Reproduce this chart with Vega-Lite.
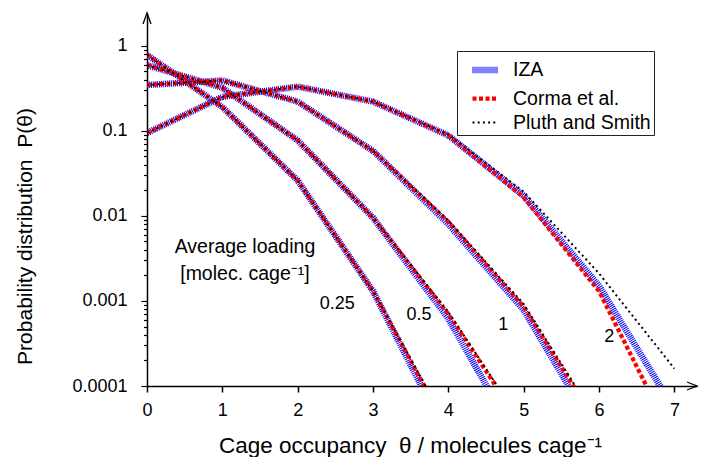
{
  "$schema": "https://vega.github.io/schema/vega-lite/v6.json",
  "width": 550,
  "height": 373,
  "autosize": {"type": "none"},
  "padding": {"left": 147, "top": 13, "right": 4, "bottom": 71},
  "background": "white",
  "config": {
    "view": {"stroke": null},
    "font": "Liberation Sans",
    "axis": {"labelFont": "Liberation Sans", "labelFontSize": 18, "titleFont": "Liberation Sans"}
  },
  "datasets": {
    "curves": [
      {"series": "IZA", "loading": "0.25", "theta": 0, "p": 0.78},
      {"series": "IZA", "loading": "0.25", "theta": 1, "p": 0.19},
      {"series": "IZA", "loading": "0.25", "theta": 2, "p": 0.026},
      {"series": "IZA", "loading": "0.25", "theta": 3, "p": 0.0013},
      {"series": "IZA", "loading": "0.25", "theta": 4, "p": 0.000024},
      {"series": "IZA", "loading": "0.5", "theta": 0, "p": 0.59},
      {"series": "IZA", "loading": "0.5", "theta": 1, "p": 0.32},
      {"series": "IZA", "loading": "0.5", "theta": 2, "p": 0.077},
      {"series": "IZA", "loading": "0.5", "theta": 3, "p": 0.0095},
      {"series": "IZA", "loading": "0.5", "theta": 4, "p": 0.00062},
      {"series": "IZA", "loading": "0.5", "theta": 5, "p": 0.000017},
      {"series": "IZA", "loading": "1", "theta": 0, "p": 0.345},
      {"series": "IZA", "loading": "1", "theta": 1, "p": 0.39},
      {"series": "IZA", "loading": "1", "theta": 2, "p": 0.22},
      {"series": "IZA", "loading": "1", "theta": 3, "p": 0.058},
      {"series": "IZA", "loading": "1", "theta": 4, "p": 0.008},
      {"series": "IZA", "loading": "1", "theta": 5, "p": 0.00078},
      {"series": "IZA", "loading": "1", "theta": 6, "p": 0.000025},
      {"series": "IZA", "loading": "2", "theta": 0, "p": 0.094},
      {"series": "IZA", "loading": "2", "theta": 1, "p": 0.25},
      {"series": "IZA", "loading": "2", "theta": 2, "p": 0.33},
      {"series": "IZA", "loading": "2", "theta": 3, "p": 0.22},
      {"series": "IZA", "loading": "2", "theta": 4, "p": 0.088},
      {"series": "IZA", "loading": "2", "theta": 5, "p": 0.0172},
      {"series": "IZA", "loading": "2", "theta": 6, "p": 0.0015},
      {"series": "IZA", "loading": "2", "theta": 7, "p": 0.000053},
      {"series": "Corma et al.", "loading": "0.25", "theta": 0, "p": 0.78},
      {"series": "Corma et al.", "loading": "0.25", "theta": 1, "p": 0.19},
      {"series": "Corma et al.", "loading": "0.25", "theta": 2, "p": 0.026},
      {"series": "Corma et al.", "loading": "0.25", "theta": 3, "p": 0.0013},
      {"series": "Corma et al.", "loading": "0.25", "theta": 4, "p": 0.00003},
      {"series": "Corma et al.", "loading": "0.5", "theta": 0, "p": 0.59},
      {"series": "Corma et al.", "loading": "0.5", "theta": 1, "p": 0.32},
      {"series": "Corma et al.", "loading": "0.5", "theta": 2, "p": 0.077},
      {"series": "Corma et al.", "loading": "0.5", "theta": 3, "p": 0.0095},
      {"series": "Corma et al.", "loading": "0.5", "theta": 4, "p": 0.0007},
      {"series": "Corma et al.", "loading": "0.5", "theta": 5, "p": 0.000032},
      {"series": "Corma et al.", "loading": "1", "theta": 0, "p": 0.345},
      {"series": "Corma et al.", "loading": "1", "theta": 1, "p": 0.39},
      {"series": "Corma et al.", "loading": "1", "theta": 2, "p": 0.22},
      {"series": "Corma et al.", "loading": "1", "theta": 3, "p": 0.058},
      {"series": "Corma et al.", "loading": "1", "theta": 4, "p": 0.0085},
      {"series": "Corma et al.", "loading": "1", "theta": 5, "p": 0.00085},
      {"series": "Corma et al.", "loading": "1", "theta": 6, "p": 0.000033},
      {"series": "Corma et al.", "loading": "2", "theta": 0, "p": 0.094},
      {"series": "Corma et al.", "loading": "2", "theta": 1, "p": 0.25},
      {"series": "Corma et al.", "loading": "2", "theta": 2, "p": 0.33},
      {"series": "Corma et al.", "loading": "2", "theta": 3, "p": 0.22},
      {"series": "Corma et al.", "loading": "2", "theta": 4, "p": 0.088},
      {"series": "Corma et al.", "loading": "2", "theta": 5, "p": 0.0165},
      {"series": "Corma et al.", "loading": "2", "theta": 6, "p": 0.0013},
      {"series": "Corma et al.", "loading": "2", "theta": 7, "p": 0.000022},
      {"series": "Pluth and Smith", "loading": "0.25", "theta": 0, "p": 0.78},
      {"series": "Pluth and Smith", "loading": "0.25", "theta": 1, "p": 0.19},
      {"series": "Pluth and Smith", "loading": "0.25", "theta": 2, "p": 0.026},
      {"series": "Pluth and Smith", "loading": "0.25", "theta": 3, "p": 0.0013},
      {"series": "Pluth and Smith", "loading": "0.25", "theta": 4, "p": 0.000033},
      {"series": "Pluth and Smith", "loading": "0.5", "theta": 0, "p": 0.59},
      {"series": "Pluth and Smith", "loading": "0.5", "theta": 1, "p": 0.32},
      {"series": "Pluth and Smith", "loading": "0.5", "theta": 2, "p": 0.077},
      {"series": "Pluth and Smith", "loading": "0.5", "theta": 3, "p": 0.0095},
      {"series": "Pluth and Smith", "loading": "0.5", "theta": 4, "p": 0.00074},
      {"series": "Pluth and Smith", "loading": "0.5", "theta": 5, "p": 0.000034},
      {"series": "Pluth and Smith", "loading": "1", "theta": 0, "p": 0.345},
      {"series": "Pluth and Smith", "loading": "1", "theta": 1, "p": 0.39},
      {"series": "Pluth and Smith", "loading": "1", "theta": 2, "p": 0.22},
      {"series": "Pluth and Smith", "loading": "1", "theta": 3, "p": 0.058},
      {"series": "Pluth and Smith", "loading": "1", "theta": 4, "p": 0.0088},
      {"series": "Pluth and Smith", "loading": "1", "theta": 5, "p": 0.00092},
      {"series": "Pluth and Smith", "loading": "1", "theta": 6, "p": 0.000036},
      {"series": "Pluth and Smith", "loading": "2", "theta": 0, "p": 0.094},
      {"series": "Pluth and Smith", "loading": "2", "theta": 1, "p": 0.25},
      {"series": "Pluth and Smith", "loading": "2", "theta": 2, "p": 0.33},
      {"series": "Pluth and Smith", "loading": "2", "theta": 3, "p": 0.22},
      {"series": "Pluth and Smith", "loading": "2", "theta": 4, "p": 0.09},
      {"series": "Pluth and Smith", "loading": "2", "theta": 5, "p": 0.0192},
      {"series": "Pluth and Smith", "loading": "2", "theta": 6, "p": 0.0021},
      {"series": "Pluth and Smith", "loading": "2", "theta": 7, "p": 0.00016}
    ],
    "notes": [
      {"kind": "heading", "label": "Average loading", "theta": 1.3, "p": 0.0037},
      {"kind": "heading", "label": "[molec. cage⁻¹]", "theta": 1.3, "p": 0.00175},
      {"kind": "value", "label": "0.25", "theta": 2.526, "p": 0.00081},
      {"kind": "value", "label": "0.5", "theta": 3.61, "p": 0.00059},
      {"kind": "value", "label": "1", "theta": 4.73, "p": 0.000452},
      {"kind": "value", "label": "2", "theta": 6.135, "p": 0.00033}
    ],
    "arrows": [
      {"axis": "x", "theta": 7.3, "p": 0.0001},
      {"axis": "y", "theta": 0, "p": 2.42}
    ]
  },
  "encoding": {
    "x": {
      "field": "theta",
      "type": "quantitative",
      "scale": {"domain": [0, 7.3], "nice": false, "zero": false},
      "axis": {
        "values": [0, 1, 2, 3, 4, 5, 6, 7],
        "grid": false,
        "domainColor": "black",
        "domainWidth": 1.5,
        "tickColor": "black",
        "tickWidth": 1.5,
        "tickSize": 6,
        "labelFont": "Liberation Sans",
        "labelFontSize": 18,
        "labelColor": "black",
        "labelPadding": 9,
        "labelFlush": false,
        "labelOverlap": false,
        "title": "Cage occupancy\u00a0 θ / molecules cage⁻¹",
        "titleFont": "Liberation Sans",
        "titleFontSize": 22.5,
        "titleFontWeight": "normal",
        "titleColor": "black",
        "titleX": 263,
        "titleY": 66,
        "titleAlign": "center",
        "titleBaseline": "alphabetic"
      }
    },
    "y": {
      "field": "p",
      "type": "quantitative",
      "scale": {"type": "log", "domain": [0.0001, 2.42], "nice": false, "zero": false},
      "axis": {
        "values": [0.0001, 0.0002, 0.0003, 0.0004, 0.0005, 0.0006, 0.0007, 0.0008, 0.0009, 0.001, 0.002, 0.003, 0.004, 0.005, 0.006, 0.007, 0.008, 0.009, 0.01, 0.02, 0.03, 0.04, 0.05, 0.06, 0.07, 0.08, 0.09, 0.1, 0.2, 0.3, 0.4, 0.5, 0.6, 0.7, 0.8, 0.9, 1],
        "labelExpr": "abs(log(datum.value)/LN10 - round(log(datum.value)/LN10)) < 1e-6 ? format(datum.value, '~g') : ''",
        "grid": false,
        "domainColor": "black",
        "domainWidth": 1.5,
        "tickColor": "black",
        "tickWidth": 1.2,
        "tickSize": {"condition": {"test": "abs(log(datum.value)/LN10 - round(log(datum.value)/LN10)) < 1e-6", "value": 6}, "value": 3.5},
        "labelFont": "Liberation Sans",
        "labelFontSize": 18,
        "labelColor": "black",
        "labelPadding": 14,
        "labelBaseline": "middle",
        "labelFlush": false,
        "labelOverlap": false,
        "title": "Probability distribution\u00a0 P(θ)",
        "titleFont": "Liberation Sans",
        "titleFontSize": 21,
        "titleFontWeight": "normal",
        "titleColor": "black",
        "titleAngle": 270,
        "titleX": -116,
        "titleY": 223,
        "titleAlign": "center",
        "titleBaseline": "alphabetic"
      }
    }
  },
  "layer": [
    {
      "data": {"name": "curves"},
      "transform": [{"filter": "datum.series === 'IZA'"}],
      "mark": {"type": "line", "clip": true, "strokeCap": "butt"},
      "encoding": {
        "color": {
          "field": "series",
          "type": "nominal",
          "scale": {"domain": ["IZA", "Corma et al.", "Pluth and Smith"], "range": ["#0000ff", "#ff0000", "#000000"]},
          "legend": {
            "title": null,
            "orient": "none",
            "legendX": 310,
            "legendY": 38,
            "padding": 3,
            "symbolOffset": 9,
            "symbolSize": 625,
            "symbolType": "stroke",
            "rowPadding": 0.5,
            "labelOffset": 12,
            "labelFont": "Liberation Sans",
            "labelFontSize": 19.5,
            "labelColor": "black",
            "labelLimit": 300,
            "labelExpr": "datum.label + '\u2003'",
            "strokeColor": "#222222",
            "fillColor": "white"
          }
        },
        "strokeDash": {
          "field": "series",
          "type": "nominal",
          "scale": {"domain": ["IZA", "Corma et al.", "Pluth and Smith"], "range": [[1, 1], [4, 2.5], [2, 3.2]]},
          "legend": {
            "title": null,
            "orient": "none",
            "legendX": 310,
            "legendY": 38,
            "padding": 3,
            "symbolOffset": 9,
            "symbolSize": 625,
            "symbolType": "stroke",
            "rowPadding": 0.5,
            "labelOffset": 12,
            "labelFont": "Liberation Sans",
            "labelFontSize": 19.5,
            "labelColor": "black",
            "labelLimit": 300,
            "labelExpr": "datum.label + '\u2003'",
            "strokeColor": "#222222",
            "fillColor": "white"
          }
        },
        "strokeWidth": {
          "field": "series",
          "type": "nominal",
          "scale": {"type": "point", "domain": ["IZA", "Corma et al.", "Pluth and Smith"], "range": [6.5, 2], "padding": 0},
          "legend": {
            "title": null,
            "orient": "none",
            "legendX": 310,
            "legendY": 38,
            "padding": 3,
            "symbolOffset": 9,
            "symbolSize": 625,
            "symbolType": "stroke",
            "rowPadding": 0.5,
            "labelOffset": 12,
            "labelFont": "Liberation Sans",
            "labelFontSize": 19.5,
            "labelColor": "black",
            "labelLimit": 300,
            "labelExpr": "datum.label + '\u2003'",
            "strokeColor": "#222222",
            "fillColor": "white"
          }
        },
        "detail": {"field": "loading", "type": "nominal"},
        "order": {"field": "theta", "type": "quantitative"}
      }
    },
    {
      "data": {"name": "curves"},
      "transform": [{"filter": "datum.series === 'Corma et al.'"}],
      "mark": {"type": "line", "clip": true, "strokeCap": "butt"},
      "encoding": {
        "color": {"field": "series", "type": "nominal"},
        "strokeDash": {"field": "series", "type": "nominal"},
        "strokeWidth": {"field": "series", "type": "nominal"},
        "detail": {"field": "loading", "type": "nominal"},
        "order": {"field": "theta", "type": "quantitative"}
      }
    },
    {
      "data": {"name": "curves"},
      "transform": [{"filter": "datum.series === 'Pluth and Smith'"}],
      "mark": {"type": "line", "clip": true, "strokeCap": "butt"},
      "encoding": {
        "color": {"field": "series", "type": "nominal"},
        "strokeDash": {"field": "series", "type": "nominal"},
        "strokeWidth": {"field": "series", "type": "nominal"},
        "detail": {"field": "loading", "type": "nominal"},
        "order": {"field": "theta", "type": "quantitative"}
      }
    },
    {
      "data": {"name": "notes"},
      "transform": [{"filter": "datum.kind === 'heading'"}],
      "mark": {"type": "text", "fontSize": 19.5, "align": "center", "baseline": "alphabetic", "color": "black", "font": "Liberation Sans"},
      "encoding": {"text": {"field": "label", "type": "nominal"}}
    },
    {
      "data": {"name": "notes"},
      "transform": [{"filter": "datum.kind === 'value'"}],
      "mark": {"type": "text", "fontSize": 18, "align": "center", "baseline": "alphabetic", "color": "black", "font": "Liberation Sans"},
      "encoding": {"text": {"field": "label", "type": "nominal"}}
    },
    {
      "data": {"name": "arrows"},
      "transform": [{"filter": "datum.axis === 'x'"}],
      "mark": {"type": "point", "shape": "M -1 -0.4 L 0 0 L -1 0.4", "size": 400, "filled": false, "color": "black", "strokeWidth": 1.3, "opacity": 1, "clip": false}
    },
    {
      "data": {"name": "arrows"},
      "transform": [{"filter": "datum.axis === 'y'"}],
      "mark": {"type": "point", "shape": "M -0.4 1.1 L 0 0 L 0.4 1.1", "size": 400, "filled": false, "color": "black", "strokeWidth": 1.3, "opacity": 1, "clip": false}
    }
  ]
}
